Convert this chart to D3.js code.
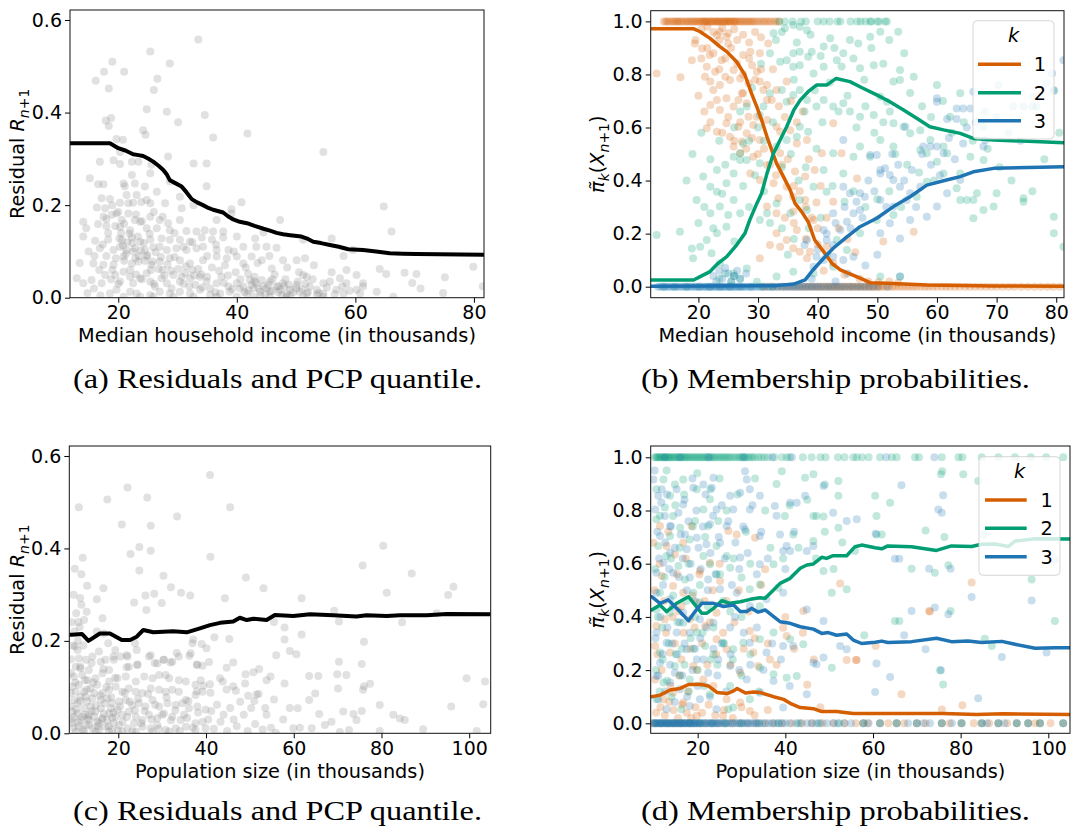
<!DOCTYPE html>
<html>
<head>
<meta charset="utf-8">
<script src="https://cdn.jsdelivr.net/npm/d3@7"></script>
<style>
  body { margin: 0; background: #fff; }
  svg text { font-family: "DejaVu Sans", sans-serif; }
</style>
</head>
<body>
<svg id="fig" width="1071" height="831"></svg>
<script>
// ---------- tick values ----------
const residualTicks = [0, 0.2, 0.4, 0.6];
const probTicks = [0, 0.2, 0.4, 0.6, 0.8, 1.0];
const incomeTicksA = [20, 40, 60, 80];
const incomeTicksB = [20, 30, 40, 50, 60, 70, 80];
const popTicks = [20, 40, 60, 80, 100];
const legendLabels = ["1", "2", "3"];

// ---------- (a) residuals vs median household income ----------
const incomeResiduals = [
  [33.5,0.558],[25.4,0.532],[19.0,0.510],[28.7,0.506],[17.6,0.488],[21.0,0.488],[16.2,0.469],[26.6,0.473],
  [18.4,0.452],[26.0,0.449],[24.8,0.407],[28.2,0.402],[34.6,0.395],[18.8,0.388],[17.9,0.383],[30.1,0.379],
  [18.4,0.371],[24.2,0.362],[41.8,0.355],[24.6,0.352],[36.0,0.346],[19.7,0.343],[20.8,0.341],[54.6,0.315],
  [64.8,0.197],[66.1,0.143],[79.9,0.067],[64.1,0.062],[65.2,0.051],[68.3,0.054],[70.3,0.051],[75.1,0.044],
  [69.6,0.032],[71.0,0.020],[81.5,0.025],[74.8,0.010],[66.4,0.002],[63.6,0.013],
  [20.3,0.315],[16.9,0.294],[19.2,0.297],[20.3,0.289],[22.3,0.294],[23.4,0.294],[25.4,0.269],[25.6,0.287],
  [28.4,0.305],[32.7,0.290],[34.9,0.290],[22.3,0.265],[28.7,0.251],[34.9,0.241],
  [15.2,0.258],[16.6,0.245],[17.5,0.245],[20.9,0.247],[21.1,0.241],[22.8,0.247],[24.5,0.240],[26.5,0.229],
  [21.4,0.222],[23.1,0.222],[24.8,0.211],[27.9,0.204],[30.4,0.218],[40.8,0.206],[39.1,0.191],[32.7,0.200],
  [17.2,0.215],[18.6,0.213],[20.3,0.205],[21.7,0.204],[22.5,0.205],[23.9,0.207],[25.4,0.204],
  [16.4,0.195],[17.8,0.193],[18.9,0.179],[19.7,0.182],[20.6,0.168],[21.7,0.182],[22.8,0.168],[23.7,0.164],
  [25.4,0.175],[27.0,0.168],[28.4,0.161],[30.7,0.193],[30.4,0.168],[36.6,0.168],[39.1,0.182],[47.3,0.168],
  [17.5,0.175],[14.1,0.164],[16.6,0.159],[14.6,0.150],[14.1,0.132],[18.0,0.155],[20.3,0.153],[22.0,0.146],
  [24.8,0.150],[26.5,0.150],[28.7,0.146],[31.5,0.144],[33.2,0.143],[34.6,0.146],[36.0,0.143],[37.7,0.143],
  [40.0,0.132],[43.1,0.128],[44.5,0.141],
  [16.1,0.123],[18.3,0.126],[20.6,0.125],[22.3,0.130],[23.7,0.121],[25.4,0.126],[27.3,0.128],[28.7,0.125],
  [30.4,0.125],[32.1,0.121],[34.1,0.130],[35.8,0.126],[37.7,0.130],[41.1,0.110],[43.3,0.110],[45.0,0.110],
  [46.7,0.108],[51.2,0.125],[56.0,0.128],[16.9,0.107],[19.2,0.103],[20.3,0.110],[21.4,0.103],[22.8,0.107],
  [24.5,0.103],[25.9,0.109],[28.2,0.103],[29.8,0.107],[31.5,0.103],[33.2,0.107],[34.3,0.110],[36.6,0.103],
  [38.6,0.103],
  [15.8,0.074],[17.5,0.071],[19.2,0.071],[20.9,0.089],[22.3,0.074],[23.4,0.078],[24.8,0.089],[25.6,0.071],
  [27.0,0.078],[28.7,0.085],[30.4,0.081],[32.1,0.074],[34.3,0.081],[36.6,0.089],[38.3,0.085],[40.0,0.089],
  [41.1,0.074],[42.5,0.089],[44.2,0.081],[45.9,0.063],[47.8,0.081],[50.1,0.081],[51.5,0.085],[58.0,0.090],
  [59.6,0.103],[51.8,0.045],
  [13.0,0.042],[14.1,0.031],[15.5,0.038],[17.2,0.031],[17.8,0.049],[19.5,0.049],[20.3,0.035],[20.9,0.056],
  [22.0,0.045],[22.5,0.031],[23.7,0.042],[24.8,0.053],[25.4,0.035],[26.2,0.024],[27.3,0.042],[28.2,0.031],
  [29.3,0.049],[30.4,0.035],[31.3,0.053],[32.1,0.042],[33.0,0.028],[33.8,0.045],[34.9,0.035],[35.5,0.020],
  [36.6,0.031],[37.4,0.045],[38.6,0.024],[40.0,0.031],[41.1,0.024],[42.2,0.038],[43.3,0.031],[44.5,0.024],
  [45.6,0.035],[46.7,0.024],[47.8,0.031],[49.0,0.017],[50.1,0.028],[51.2,0.049],[52.3,0.024],[53.5,0.017],
  [54.6,0.031],[55.7,0.035],[57.4,0.042],[58.5,0.031],[60.2,0.049],[61.3,0.031],[60.2,0.017],
  [19.7,0.017],[22.0,0.013],[23.1,0.009],[25.4,0.006],[27.0,0.013],[28.7,0.009],[30.4,0.013],[32.1,0.009],
  [33.8,0.017],[35.5,0.006],[37.2,0.009],[38.8,0.013],[40.5,0.020],[41.7,0.009],[42.8,0.020],[43.9,0.013],
  [45.6,0.013],[47.3,0.017],[48.4,0.009],[50.6,0.013],[51.8,0.009],[53.5,0.006],[54.6,0.009],[56.8,0.017],
  [58.0,0.009],[60.8,0.009],[61.3,0.024],[18.6,0.009],[20.9,0.002],[23.7,0.002],[25.9,0.002],[29.3,0.002],
  [32.7,0.002],[36.6,0.002],[40.0,0.002],[42.8,0.002],[45.6,0.002],[48.4,0.002],[51.2,0.002],[54.6,0.002]
];
const incomeResidualsDense = [
  [20.5,0.140],[21.5,0.120],[22.5,0.100],[23.5,0.090],[24.5,0.080],[25.5,0.060],[21.0,0.080],[22.0,0.060],
  [23.0,0.050],[24.0,0.040],[26.0,0.030],[27.5,0.060],[29.0,0.020],[31.0,0.030],[32.5,0.060],[34.0,0.050],
  [42.0,0.015],[43.0,0.035],[44.0,0.005],[45.0,0.020],[46.0,0.040],[47.0,0.012],[48.0,0.025],[49.0,0.005],
  [50.0,0.020],[52.0,0.012],[18.0,0.090],[19.0,0.060],[20.0,0.030],[27.0,0.110],
  [19.5,0.155],[20.2,0.128],[20.8,0.112],[21.3,0.095],[21.9,0.138],[22.4,0.118],[22.9,0.085],[23.3,0.132],
  [23.8,0.102],[24.3,0.118],[24.9,0.092],[25.3,0.138],[25.8,0.078],[26.3,0.098],[26.8,0.062],[27.2,0.088],
  [27.8,0.048],[28.3,0.072],[28.9,0.058],[29.5,0.088],[30.1,0.062],[30.7,0.045],[31.4,0.068],[32.0,0.025],
  [32.8,0.048],[33.5,0.062],[34.2,0.022],[35.0,0.045],[35.8,0.065],[36.4,0.012],[37.0,0.058],[37.8,0.032],
  [38.5,0.048],[39.2,0.018],[39.8,0.055],[40.6,0.040],[41.3,0.012],[41.9,0.052],[42.5,0.028],[43.0,0.045],
  [43.7,0.020],[44.2,0.038],[44.8,0.008],[45.3,0.028],[45.9,0.015],[46.4,0.050],[47.0,0.025],[47.6,0.006],
  [48.2,0.040],[48.8,0.028],[49.5,0.012],[50.3,0.035],[51.0,0.018],[51.6,0.030],[52.8,0.040],[53.8,0.010],
  [55.2,0.022],[56.5,0.008],[57.8,0.025],[59.0,0.015],
  [16.0,0.090],[16.8,0.060],[17.4,0.115],[18.3,0.140],[18.8,0.040],[19.6,0.085],[14.8,0.010],[15.9,0.020],
  [17.0,0.005],[13.5,0.075],[15.0,0.100],[18.0,0.170],[19.0,0.200],[20.0,0.185],[21.0,0.160],[23.0,0.180],
  [24.0,0.165],[26.0,0.185],[27.5,0.175],[29.5,0.140],[31.0,0.110],[32.5,0.120],[35.0,0.090],[36.5,0.115],
  [38.0,0.070],[39.5,0.100],[41.5,0.065],[43.5,0.075],[45.5,0.090],[48.5,0.065],[50.5,0.055],[53.0,0.070],
  [56.0,0.055],[58.5,0.060]
];
const incomeQuantile = [
  [11.86,0.3336],[18.6,0.3336],[20.0,0.323],[21.2,0.318],[22.5,0.310],[23.4,0.308],[24.2,0.306],[25.1,0.300],
  [25.9,0.294],[26.8,0.285],[27.6,0.276],[28.2,0.266],[28.7,0.254],[29.7,0.247],[30.7,0.240],[31.5,0.228],
  [32.4,0.213],[33.3,0.206],[34.3,0.200],[35.2,0.194],[36.0,0.190],[37.7,0.184],[38.5,0.176],[39.4,0.169],
  [40.5,0.164],[41.7,0.161],[43.0,0.155],[44.5,0.149],[45.6,0.145],[46.7,0.140],[47.8,0.137],[49.0,0.135],
  [50.9,0.132],[52.0,0.127],[52.9,0.121],[54.2,0.118],[55.7,0.114],[57.2,0.110],[58.8,0.1046],[61.3,0.103],
  [63.5,0.100],[65.8,0.096],[68.0,0.095],[70.3,0.0944],[81.7,0.093]
];

// ---------- (b) membership probabilities vs median household income ----------
const incomeK1Ones = [14.2,14.5,14.8,15.1,15.5,15.8,16.1,16.4,16.6,16.9,17.2,17.5,17.9,18.1,18.4,18.7,19.0,19.3,
  19.5,19.8,20.1,20.3,20.6,20.8,21.0,21.2,21.4,21.6,21.9,22.1,22.3,22.5,22.8,23.0,23.2,23.4,23.6,23.8,24.1,24.3,
  24.5,24.7,24.9,25.1,25.3,25.5,25.8,26.0,26.2,26.4,26.7,27.0,27.3,27.6,27.9,28.2,28.5,28.8,29.1,29.4,29.8,30.2,
  30.6,31.0,31.4,31.8,32.2,32.7,33.1,33.6];
const incomeK1Zeros = [31.0,31.7,32.5,33.3,34.0,34.6,35.2,35.8,36.3,36.9,37.4,37.9,38.3,38.8,39.2,39.7,40.1,40.6,
  41.0,41.4,41.8,42.2,42.6,43.0,43.4,43.8,44.2,44.6,45.0,45.4,45.8,46.2,46.6,47.0,47.4,47.8,48.2,48.6,49.0,49.4,
  49.8,50.2,50.6,51.0,51.5,52.0,52.5,53.0,53.6,54.2,54.8,55.4,56.0,56.6,57.3,58.0,58.6,59.3,60.0,60.8,61.5,62.2,
  63.0,63.8,64.7,65.5,66.4,67.3,68.2,69.1,70.0,71.0,72.0,73.0,74.1,75.2,76.3,77.4,78.5,79.5,80.6];
const incomeK1Scatter = [
  [13.0,0.804],[17.0,0.789],[18.9,0.854],[19.4,0.917],[20.6,0.898],[21.4,0.829],[21.1,0.791],[21.9,0.873],
  [23.1,0.949],[23.6,0.961],[24.7,0.942],[25.0,0.917],[23.9,0.854],[22.8,0.810],[22.0,0.773],[22.5,0.741],
  [23.6,0.760],[24.5,0.791],[25.3,0.779],[25.9,0.817],[27.0,0.785],[27.3,0.729],[23.1,0.704],[22.0,0.685],
  [23.6,0.666],[24.7,0.710],[25.9,0.679],[26.7,0.704],[27.5,0.729],[28.4,0.767],[29.0,0.835],[29.8,0.810],
  [30.3,0.773],[30.9,0.741],[31.5,0.704],[32.3,0.704],[33.1,0.741],[34.8,0.773],[31.7,0.917],[30.3,0.880],
  [28.7,0.886],[27.5,0.873],[21.4,0.597],[23.1,0.584],[24.7,0.616],[25.3,0.565],[26.7,0.603],[27.3,0.547],
  [28.1,0.578],[29.2,0.609],[29.8,0.641],[30.3,0.553],[31.5,0.628],[33.1,0.603],[33.7,0.584],[35.4,0.590],
  [36.5,0.540],[38.2,0.553],[42.6,0.616],[44.0,0.503],[40.7,0.503],[25.9,0.528],[27.0,0.503],[29.2,0.490],
  [31.5,0.459],[33.7,0.503],[36.2,0.434],[37.9,0.415],[28.7,0.427],[30.3,0.402],[32.6,0.390],[34.8,0.377],
  [35.9,0.339],[37.9,0.327],[39.8,0.317],[33.4,0.333],[31.5,0.302],[33.1,0.277],[35.9,0.283],[42.6,0.320],
  [39.3,0.251],[33.1,0.201],[34.8,0.176],[35.9,0.145],[37.0,0.132],[33.7,0.151],[32.0,0.157],[30.3,0.107],
  [38.7,0.132],[41.5,0.151],[42.6,0.088],[38.2,0.107],[36.5,0.214],[28.1,0.691],[28.4,0.641],
  [20.5,0.970],[21.5,0.980],[22.5,0.960],[23.5,0.930],[24.0,0.975],[25.0,0.955],[26.0,0.970],[26.5,0.930],
  [27.5,0.950],[28.5,0.920],[29.5,0.960],[30.5,0.940],
  [48.5,0.020],[50.2,0.018],[52.0,0.020],[53.5,0.015],[44.5,0.045],[47.0,0.030],
  [46.6,0.408],[56.1,0.207],[51.0,0.170],[46.3,0.130],
  [19.5,0.930],[20.5,0.860],[21.5,0.900],[22.5,0.880],[23.5,0.820],[24.5,0.860],[25.5,0.900],[26.5,0.840],
  [27.5,0.800],[28.5,0.860],[29.5,0.780],[30.5,0.820],[31.5,0.760],[32.5,0.820],[33.5,0.680],[34.5,0.640],
  [35.5,0.700],[36.5,0.620],[37.5,0.660],[38.5,0.480],[39.5,0.440],[40.5,0.380],[41.5,0.260],[43.5,0.220],
  [45.0,0.180],[20.0,0.720],[21.0,0.660],[22.0,0.620],[24.0,0.580],[25.0,0.640],[26.0,0.550],[27.0,0.620],
  [28.0,0.520],[29.0,0.560],[30.0,0.500],[31.0,0.520],[32.0,0.460],[33.0,0.420],[34.0,0.460],[35.0,0.480],
  [36.0,0.380],[37.0,0.360],[38.0,0.300],[39.0,0.260],[40.0,0.220],[34.5,0.260],[36.0,0.240],[38.0,0.180],
  [40.0,0.160],[41.0,0.060]
];
const incomeK2Ones = [33.5,34.5,35.8,37.2,38.0,40.0,41.0,42.0,43.3,43.8,45.5,46.6,47.2,48.0,48.8,49.0,50.0,50.3,51.3,51.6];
const incomeK2Zeros = [14.2,16.0,18.0,20.1,21.9,23.6,25.3,27.0,28.8,30.6,32.4];
const incomeK2Scatter = [
  [32.6,0.955],[35.9,0.986],[37.0,0.980],[38.2,0.967],[34.5,0.974],[42.1,0.936],[41.0,0.905],[39.0,0.886],
  [38.4,0.867],[37.0,0.886],[35.9,0.880],[33.7,0.848],[34.8,0.854],[35.9,0.829],[37.0,0.835],[39.3,0.804],
  [41.0,0.829],[43.2,0.854],[44.3,0.880],[45.4,0.930],[46.8,0.917],[48.8,0.942],[50.5,0.961],[53.5,0.961],
  [47.1,0.823],[49.4,0.835],[53.8,0.817],[52.7,0.773],[53.8,0.779],[56.1,0.791],[60.0,0.760],[63.9,0.729],
  [50.5,0.716],[51.6,0.697],[52.1,0.660],[52.7,0.616],[49.4,0.647],[47.1,0.641],[45.4,0.660],[44.3,0.691],
  [42.6,0.679],[41.0,0.704],[39.8,0.679],[38.2,0.704],[37.0,0.741],[35.9,0.723],[34.8,0.697],[34.0,0.741],
  [32.0,0.729],[30.9,0.679],[30.3,0.647],[28.1,0.679],[37.0,0.603],[38.4,0.584],[36.5,0.565],[34.8,0.553],
  [33.1,0.528],[30.3,0.465],[28.1,0.478],[27.0,0.503],[25.9,0.427],[24.7,0.390],[23.1,0.358],[22.0,0.377],
  [19.7,0.327],[20.8,0.415],[23.1,0.440],[25.9,0.490],[27.5,0.540],[27.0,0.478],[22.0,0.277],[23.6,0.302],
  [25.9,0.327],[27.0,0.277],[24.7,0.226],[23.1,0.201],[21.4,0.176],[20.3,0.151],[19.1,0.107],[16.9,0.207],
  [13.0,0.195],[18.9,0.144],[22.2,0.126],[23.6,0.088],[25.9,0.050],[28.1,0.069],[30.3,0.251],[31.5,0.277],
  [33.1,0.314],[35.4,0.277],[37.0,0.327],[38.2,0.289],[39.3,0.377],[41.5,0.358],[42.6,0.503],[44.3,0.427],
  [46.0,0.490],[47.1,0.528],[48.8,0.490],[50.5,0.553],[52.7,0.528],[54.4,0.603],[55.5,0.578],[57.2,0.590],
  [58.3,0.503],[60.0,0.471],[61.7,0.503],[63.9,0.427],[63.3,0.371],[63.9,0.327],[65.0,0.327],[66.1,0.327],
  [66.7,0.352],[67.8,0.289],[66.1,0.258],[69.5,0.302],[70.0,0.352],[74.5,0.333],[74.5,0.320],[79.6,0.264],
  [79.6,0.201],[81.2,0.151],[79.6,0.738],[76.7,0.679],[67.8,0.478],[65.6,0.490],[61.1,0.427],[58.3,0.396],
  [56.6,0.339],[52.7,0.270],[49.9,0.251],[47.1,0.201],[44.9,0.138],[42.6,0.075],[39.3,0.050],[35.9,0.056],
  [33.1,0.038],[29.8,0.019],[50.5,0.038],[53.8,0.038],[43.2,0.176],[57.2,0.515],[58.9,0.553],[61.1,0.528],
  [62.2,0.641],[67.8,0.603],[23.5,0.030],[24.5,0.050],[25.5,0.020],[26.0,0.040],[27.0,0.030],
  [36.5,0.920],[38.8,0.950],[40.5,0.870],[42.8,0.900],[44.0,0.830],[46.0,0.860],[47.8,0.780],[49.0,0.900],
  [51.0,0.840],[52.0,0.930],[54.5,0.880],[55.5,0.730],[57.5,0.680],[59.0,0.640],[61.0,0.700],[62.5,0.580],
  [64.5,0.620],[66.0,0.550],[68.5,0.520],[70.5,0.450],[72.5,0.400],[76.0,0.360],[78.0,0.480],[80.5,0.580],
  [36.0,0.780],[37.8,0.660],[39.5,0.740],[40.8,0.620],[42.0,0.770],[43.5,0.660],[45.0,0.720],[46.5,0.600],
  [48.0,0.680],[49.5,0.580],[51.0,0.620],[53.0,0.500],[55.0,0.460],[57.0,0.430],[59.5,0.400],
  [30.0,0.600],[31.0,0.550],[32.5,0.620],[34.0,0.450],[35.5,0.500],[36.8,0.400],[38.0,0.450],[39.8,0.520],
  [41.0,0.440],[42.5,0.380],[44.5,0.320],[46.0,0.360],[48.0,0.300],[50.0,0.330],[52.0,0.360],[54.0,0.300],
  [20.0,0.240],[21.0,0.300],[22.5,0.220],[24.0,0.350],[25.0,0.270],[26.0,0.170],[27.5,0.380],[28.5,0.300],
  [29.5,0.420],[31.0,0.360],[32.0,0.240],[34.0,0.220],[35.0,0.120],[36.0,0.180],[38.5,0.220],[40.5,0.260],
  [41.5,0.120],[18.0,0.400],[19.0,0.500],[20.5,0.580],[22.0,0.480],[23.5,0.550],[24.5,0.460],[26.0,0.600],
  [27.0,0.660],[28.5,0.550],[29.0,0.750],[30.5,0.840],[32.0,0.880],[33.0,0.930],[34.0,0.960]
];
const incomeK3Zeros = [13.2,13.6,14.0,14.4,14.8,15.2,15.6,16.0,16.4,16.8,17.2,17.6,18.0,18.3,18.7,19.0,19.4,19.7,
  20.1,20.4,20.8,21.1,21.4,21.7,22.0,22.3,22.6,22.9,23.2,23.5,23.8,24.1,24.4,24.7,25.0,25.3,25.6,25.9,26.2,26.5,
  26.8,27.2,27.5,27.8,28.2,28.6,29.0,29.4,29.8,30.2,30.7,31.1,31.6,32.0,32.5,33.0,33.4,33.9,34.3,34.8,35.2,35.7,
  36.1,36.6,37.0,37.5,38.0,38.5,39.0,39.5,40.0,40.5,41.1,41.7,42.2,42.8,43.4,44.0,44.6,45.3,45.9,46.6,47.2,47.9,
  48.6,49.3,50.1,51.7];
const incomeK3Scatter = [
  [22.5,0.040],[23.5,0.060],[24.0,0.030],[24.5,0.070],[25.0,0.050],[25.5,0.020],[26.0,0.040],[26.5,0.060],
  [27.0,0.030],[23.0,0.020],[28.0,0.050],
  [37.8,0.157],[41.0,0.214],[41.5,0.176],[42.6,0.157],[42.6,0.277],[44.3,0.377],[45.4,0.352],[47.1,0.352],
  [47.9,0.339],[46.0,0.277],[47.1,0.289],[44.9,0.245],[43.8,0.214],[44.3,0.553],[48.8,0.496],[49.9,0.496],
  [51.3,0.446],[50.5,0.427],[52.1,0.421],[52.7,0.402],[53.8,0.377],[53.8,0.038],[50.5,0.327],[52.7,0.302],
  [54.9,0.327],[55.5,0.352],[57.2,0.377],[54.7,0.603],[57.7,0.528],[58.9,0.528],[60.0,0.528],[61.1,0.503],
  [60.0,0.710],[60.0,0.697],[61.7,0.632],[63.3,0.632],[63.3,0.672],[64.4,0.672],[65.6,0.672],[67.8,0.528],
  [68.1,0.553],[64.4,0.540],[63.9,0.402],[61.7,0.352],[60.0,0.302],[58.3,0.264],[55.5,0.251],[52.1,0.239],
  [50.5,0.201],[53.8,0.182],[72.8,0.679],[74.5,0.679],[76.2,0.716],[78.4,0.767],[81.2,0.854],[46.0,0.113],
  [44.3,0.101],[42.6,0.113],[39.8,0.113],[39.3,0.075],[38.2,0.176],[41.0,0.101],[79.3,0.804],[79.6,0.741],
  [70.3,0.760],[66.1,0.735],
  [40.0,0.140],[41.5,0.200],[43.0,0.240],[44.5,0.300],[45.5,0.220],[46.5,0.320],[47.5,0.260],[48.5,0.400],
  [49.5,0.360],[50.5,0.440],[51.5,0.300],[52.5,0.500],[53.5,0.460],[54.5,0.400],[55.8,0.440],[56.5,0.300],
  [57.5,0.500],[59.0,0.460],[60.5,0.420],[62.0,0.560],[63.0,0.480],[65.0,0.600],[66.5,0.620],[68.0,0.660],
  [70.0,0.640],[72.0,0.580],[74.0,0.550],[76.0,0.680],[45.0,0.050],[48.0,0.080],[50.0,0.120],[43.0,0.020],
  [39.0,0.030]
];
const incomeK1Line = [
  [12.0,0.9725],[19.15,0.9725],[20.3,0.961],[21.95,0.936],[23.6,0.905],[24.75,0.886],[26.4,0.848],[27.8,0.798],
  [28.9,0.729],[29.8,0.678],[30.6,0.628],[31.5,0.565],[32.3,0.515],[33.1,0.465],[34.25,0.415],[35.4,0.364],
  [36.2,0.314],[37.3,0.283],[38.4,0.245],[39.5,0.176],[41.0,0.132],[42.4,0.088],[43.8,0.063],[45.4,0.048],
  [47.1,0.032],[48.8,0.015],[51.6,0.013],[58.3,0.0064],[69.5,0.0026],[81.3,0.0015]
];
const incomeK2Line = [
  [12.0,0.025],[19.2,0.025],[20.3,0.038],[21.95,0.057],[23.3,0.088],[24.75,0.113],[26.4,0.157],[27.8,0.201],
  [28.6,0.251],[29.8,0.314],[30.6,0.352],[31.5,0.427],[32.6,0.503],[33.7,0.553],[34.8,0.603],[36.0,0.666],
  [37.1,0.704],[38.4,0.735],[39.8,0.760],[41.5,0.760],[43.1,0.785],[45.4,0.773],[47.6,0.748],[49.9,0.723],
  [52.1,0.697],[54.4,0.666],[56.6,0.635],[58.8,0.603],[61.1,0.591],[63.9,0.578],[66.1,0.559],[69.5,0.553],
  [81.3,0.543]
];
const incomeK3Line = [
  [12.0,0.002],[33.1,0.004],[36.0,0.010],[37.9,0.026],[39.2,0.063],[41.0,0.107],[42.6,0.145],[44.9,0.188],
  [47.1,0.226],[49.9,0.258],[52.7,0.302],[55.5,0.339],[58.3,0.383],[61.6,0.402],[63.9,0.415],[66.1,0.433],
  [69.5,0.446],[81.3,0.452]
];

// ---------- (c) residuals vs population size ----------
const popResiduals = [
  [40.9,0.559],[22.1,0.532],[26.6,0.510],[17.5,0.506],[11.0,0.489],[45.5,0.489],[33.4,0.469],[20.8,0.452],
  [27.4,0.449],[80.4,0.406],[24.8,0.403],[22.8,0.388],[27.4,0.395],[41.0,0.382],[11.9,0.380],[75.7,0.363],
  [10.1,0.356],[24.8,0.352],[11.6,0.344],[86.9,0.346],[30.3,0.341],[49.1,0.337],[12.9,0.319],[16.6,0.314],
  [32.0,0.316],[53.1,0.314],[96.4,0.317],[34.3,0.304],[81.2,0.304],[26.2,0.298],[28.2,0.302],[36.4,0.298],
  [95.2,0.299],[11.3,0.293],[15.1,0.290],[44.3,0.292],[61.8,0.292],[29.9,0.282],[23.6,0.283],[11.6,0.278],
  [26.4,0.267],[12.8,0.263],[92.6,0.260],[69.2,0.265],[16.4,0.249],[84.7,0.240],[70.3,0.242],[55.5,0.241],
  [10.9,0.241],[12.2,0.245],[57.9,0.229],[15.1,0.220],[16.7,0.216],[23.8,0.195],[37.1,0.203],[41.9,0.208],
  [45.3,0.204],[61.8,0.214],[57.9,0.203],[76.0,0.198],[17.7,0.195],[10.1,0.188],[39.0,0.193],[36.9,0.195],
  [40.1,0.184],[59.1,0.178],[24.2,0.180],[60.6,0.171],[18.9,0.166],[21.9,0.169],[19.3,0.180],[27.4,0.169],
  [33.3,0.174],[36.2,0.168],[56.0,0.169],[70.3,0.155],[75.5,0.150],[28.3,0.152],[30.3,0.159],[31.9,0.153],
  [24.4,0.149],[40.7,0.154],[46.2,0.153],[37.9,0.149],[44.7,0.142],[52.1,0.139],[50.8,0.132],[21.9,0.143],
  [16.6,0.139],[13.9,0.152],[11.3,0.144],[12.4,0.115],[54.7,0.123],[63.5,0.124],[65.6,0.124],[72.0,0.126],
  [69.9,0.128],[103.6,0.112],[99.4,0.119],[43.2,0.119],[48.9,0.108],[57.9,0.108],[53.8,0.115],[76.0,0.102],
  [77.4,0.107],[70.1,0.097],[64.9,0.086],[75.8,0.094],[39.4,0.103],[40.9,0.106],[44.7,0.095],[46.2,0.102],
  [37.9,0.091],[49.6,0.081],[51.5,0.084],[55.5,0.073],[63.5,0.072],[65.8,0.042],[79.6,0.061],[95.9,0.058],
  [103.2,0.063],[59.1,0.055],[60.9,0.054],[71.3,0.047],[73.6,0.042],[75.5,0.048],[82.7,0.040],[85.3,0.029],
  [84.2,0.032],[74.3,0.029],[68.6,0.025],[67.1,0.018],[57.6,0.030],[59.9,0.011],[61.4,0.012],[89.5,0.009],
  [79.6,0.005],[70.5,0.003],[64.1,0.011],[55.9,0.001],[101.7,0.005],[72.6,0.007],
  [10.7,0.180],[11.0,0.162],[10.3,0.144],[11.4,0.141],[12.6,0.159],[13.3,0.137],[14.1,0.166],[15.6,0.177],
  [16.0,0.155],[17.1,0.159],[17.9,0.137],[19.0,0.159],[20.5,0.166],[22.1,0.166],[22.4,0.144],[24.3,0.148],
  [27.0,0.166],[28.9,0.151],[30.4,0.159],[30.8,0.126],[32.3,0.155],[33.8,0.166],[36.5,0.173],[38.0,0.148],
  [39.2,0.146],
  [9.9,0.123],[11.8,0.126],[13.0,0.115],[14.8,0.119],[16.4,0.130],[17.9,0.112],[19.8,0.119],[21.7,0.123],
  [24.0,0.112],[25.9,0.123],[27.8,0.119],[29.3,0.126],[31.6,0.119],[33.8,0.115],[35.4,0.112],[37.6,0.105],
  [38.8,0.115],
  [9.5,0.101],[11.0,0.105],[12.2,0.090],[13.7,0.097],[15.2,0.105],[16.4,0.087],[17.9,0.094],[19.4,0.101],
  [20.9,0.090],[22.4,0.097],[24.0,0.090],[25.5,0.087],[27.4,0.097],[29.3,0.094],[30.8,0.090],[32.3,0.094],
  [33.8,0.090],[35.4,0.072],[37.6,0.083],[39.2,0.090],
  [9.9,0.072],[11.4,0.079],[12.9,0.069],[14.1,0.076],[16.0,0.072],[17.5,0.076],[18.6,0.065],[20.2,0.069],
  [21.7,0.072],[23.2,0.061],[24.7,0.065],[26.2,0.058],[27.8,0.072],[29.3,0.058],[31.2,0.065],[33.1,0.061],
  [34.6,0.065],[36.1,0.054],[38.0,0.058],[39.9,0.051],
  [9.5,0.047],[10.7,0.043],[11.8,0.036],[13.3,0.040],[14.8,0.047],[16.4,0.033],[17.9,0.043],[19.4,0.036],
  [20.9,0.040],[22.4,0.047],[24.0,0.036],[25.5,0.029],[27.0,0.040],[28.9,0.033],[30.4,0.043],[32.3,0.036],
  [34.2,0.029],[35.7,0.033],[37.6,0.022],[39.2,0.025],
  [9.5,0.022],[11.0,0.014],[12.6,0.018],[14.1,0.011],[15.6,0.022],[17.1,0.014],[18.6,0.007],[20.2,0.018],
  [22.1,0.011],[23.6,0.022],[25.5,0.014],[27.4,0.011],[28.9,0.018],[30.8,0.007],[33.1,0.011],[35.4,0.014],
  [37.6,0.007],[39.9,0.011],
  [10.3,0.004],[12.2,0.004],[14.8,0.004],[17.9,0.004],[20.9,0.004],[24.0,0.004],[27.8,0.004],[31.6,0.004]
];
const popResidualsDense = [
  [9.1,0.058],[9.9,0.036],[10.7,0.065],[11.4,0.029],[12.2,0.054],[13.0,0.033],[13.7,0.058],[14.5,0.036],
  [15.2,0.025],[16.0,0.054],[16.7,0.043],[17.5,0.029],[18.3,0.054],[19.0,0.022],[19.8,0.051],[9.1,0.087],
  [10.3,0.090],[12.6,0.079],[14.5,0.087],[13.3,0.029],[15.6,0.007],[18.6,0.033],
  [9.3,0.030],[9.8,0.012],[10.4,0.052],[10.9,0.024],[11.3,0.070],[11.9,0.008],[12.4,0.040],[12.8,0.095],
  [13.4,0.018],[13.9,0.048],[14.3,0.110],[14.9,0.060],[15.4,0.015],[15.9,0.082],[16.3,0.030],[16.9,0.065],
  [17.3,0.100],[17.8,0.015],[18.4,0.078],[18.9,0.045],[19.3,0.120],[19.9,0.006],[20.4,0.058],[21.0,0.025],
  [21.5,0.088],[22.0,0.035],[22.6,0.068],[23.2,0.005],[23.8,0.050],[24.5,0.075],[25.2,0.022],[26.0,0.048],
  [26.8,0.085],[27.6,0.030],[28.4,0.062],[29.2,0.010],[30.0,0.040],[31.0,0.078],[32.0,0.028],[33.0,0.050],
  [34.0,0.005],[35.0,0.040],[36.0,0.070],[37.0,0.012],[38.2,0.045],
  [40.5,0.030],[41.2,0.048],[41.8,0.010],[42.5,0.062],[43.3,0.025],[44.0,0.040],[44.8,0.005],[45.5,0.055],
  [46.3,0.030],[47.0,0.015],[47.8,0.068],[48.6,0.040],[49.5,0.005],[50.3,0.055],[51.2,0.020],[52.0,0.085],
  [52.9,0.008],[53.8,0.040],[54.8,0.012],[41.0,0.088],[43.8,0.112],[46.8,0.092],[49.0,0.128],[51.0,0.070],
  [53.5,0.055],
  [9.2,0.160],[9.6,0.190],[10.0,0.220],[10.4,0.260],[9.4,0.240],[10.8,0.200],[9.8,0.300],[11.2,0.230],
  [12.0,0.190],[9.2,0.130],[10.2,0.110]
];
const popQuantile = [
  [8.83,0.213],[9.4,0.213],[11.7,0.215],[13.2,0.200],[15.8,0.216],[18.1,0.216],[20.8,0.202],[22.7,0.202],
  [24.2,0.209],[25.7,0.2235],[28.0,0.2185],[32.5,0.221],[35.6,0.2185],[38.6,0.227],[40.9,0.234],[43.2,0.239],
  [46.2,0.242],[47.7,0.250],[49.3,0.245],[50.8,0.248],[53.8,0.245],[55.7,0.256],[59.9,0.254],[63.7,0.2575],
  [69.0,0.2555],[74.3,0.2525],[76.6,0.2555],[81.2,0.254],[84.2,0.2555],[90.3,0.2555],[94.9,0.258],[104.9,0.2575]
];

// ---------- (d) membership probabilities vs population size ----------
const popSharedZeros = [57.8,61.6,65.4,70.0,75.7,80.2,84.8,88.6,92.8,95.4,98.1,103.4];
const popK1Zeros = [9.6,10.5,11.5,12.4,13.3,14.2,15.1,16.0,17.0,18.1,19.2,20.4,21.7,23.1,24.6,26.2,27.9,29.6,31.4,
  33.3,35.2,37.2,39.3,41.5,43.8,46.1,48.5,51.0,53.5,56.1,58.8,63.5,67.1,72.0,77.5,83.0,86.5,90.6,97.0,100.5];
const popK1Scatter = [
  [9.9,0.679],[11.4,0.742],[12.9,0.667],[14.8,0.635],[16.7,0.679],[18.6,0.742],[20.5,0.573],[22.8,0.604],
  [25.1,0.535],[27.0,0.723],[28.9,0.710],[33.1,0.698],[35.4,0.579],[39.5,0.359],[40.3,0.328],[44.1,0.422],
  [52.5,0.526],[31.9,0.347],[32.7,0.266],[33.8,0.215],[29.7,0.190],[26.6,0.278],[24.3,0.316],[21.7,0.366],
  [18.2,0.391],[15.6,0.422],[12.5,0.391],[10.6,0.366],[10.3,0.291],[13.7,0.266],[16.3,0.240],[19.0,0.215],
  [21.3,0.165],[23.6,0.140],[26.6,0.090],[29.7,0.078],[31.9,0.046],[25.8,0.028],[19.8,0.028],[16.7,0.078],
  [14.4,0.115],[12.2,0.090],[10.3,0.165],[24.3,0.416],[19.8,0.454],[16.7,0.491],[14.4,0.516],[11.8,0.554],
  [54.0,0.238],[56.1,0.238],[82.5,0.529],[72.8,0.422],[56.3,0.238],[60.6,0.291],[66.5,0.109],[80.4,0.068],
  [75.7,0.052],[73.0,0.420],[45.0,0.145],[48.0,0.060],[36.5,0.240],
  [10.2,0.500],[10.8,0.260],[11.3,0.600],[11.8,0.200],[12.3,0.460],[12.8,0.340],[13.3,0.720],[13.8,0.140],
  [14.3,0.400],[14.8,0.300],[15.3,0.560],[15.8,0.180],[16.3,0.440],[16.8,0.340],[17.3,0.620],[17.8,0.120],
  [18.3,0.280],[18.8,0.480],[19.3,0.360],[19.8,0.200],[20.4,0.560],[21.0,0.300],[21.6,0.460],[22.2,0.220],
  [22.8,0.380],[23.5,0.500],[24.2,0.260],[25.0,0.600],[25.8,0.340],[26.6,0.460],[27.5,0.220],[28.4,0.380],
  [29.4,0.500],[30.5,0.280],[31.6,0.420],[33.0,0.320],[34.5,0.520],[36.0,0.300],[38.0,0.220],[40.0,0.400],
  [42.0,0.280],[44.0,0.340],[46.5,0.240],
  [10.5,0.040],[11.5,0.060],[12.5,0.030],[13.5,0.080],[14.5,0.050],[15.5,0.020],[16.5,0.070],[17.5,0.040],
  [18.5,0.020],[19.5,0.060],[21.0,0.040],[22.5,0.070],[24.0,0.030],[26.0,0.050],[28.0,0.020],[30.0,0.060],
  [33.0,0.030],[36.0,0.050]
];
const popK2Ones = [10.2,10.5,10.8,11.1,11.4,11.7,12.0,12.3,12.6,12.9,13.2,13.5,13.8,14.1,14.5,14.8,15.2,15.5,15.9,
  16.2,16.6,16.9,17.3,17.6,18.0,18.4,18.8,19.2,19.6,20.0,20.4,20.8,21.2,21.6,22.0,22.4,22.8,23.2,23.6,24.0,24.5,
  25.0,25.4,25.9,26.3,26.8,27.2,27.7,28.3,28.8,29.4,29.8,30.2,30.6,31.0,31.5,32.0,32.5,33.0,33.8,34.5,35.2,36.0,
  37.5,39.2,40.3,41.0,44.0,46.0,48.0,49.2,52.0,53.5,55.5,56.3,57.5,59.0,61.6,64.3,65.4,69.6,70.5,75.7,79.5,80.4,
  84.8,88.6,92.4,96.0,99.5,103.4];
const popK2Zeros = [10.2,11.6,13.0,14.6,16.2,18.2,20.6,23.4,26.5,30.0,34.0,38.4,43.0,47.6,52.3];
const popK2Scatter = [
  [39.2,0.948],[44.5,0.923],[46.4,0.936],[52.1,0.911],[49.0,0.898],[52.1,0.855],[46.4,0.779],[47.1,0.779],
  [48.7,0.777],[39.9,0.779],[41.8,0.710],[46.4,0.685],[48.7,0.573],[50.6,0.491],[54.0,0.504],[52.1,0.735],
  [38.4,0.510],[37.3,0.598],[34.2,0.522],[31.9,0.504],[30.0,0.548],[26.6,0.629],[27.4,0.585],[25.1,0.560],
  [22.8,0.598],[21.3,0.629],[24.3,0.667],[24.7,0.761],[22.4,0.742],[19.4,0.761],[21.3,0.804],[22.8,0.842],
  [19.8,0.880],[16.7,0.917],[14.8,0.898],[12.2,0.917],[10.6,0.880],[13.7,0.855],[12.5,0.811],[10.6,0.767],
  [14.4,0.779],[16.0,0.735],[18.2,0.691],[13.7,0.704],[11.0,0.667],[12.9,0.629],[15.6,0.591],[17.1,0.541],
  [19.0,0.491],[20.5,0.454],[11.4,0.491],[10.6,0.428],[13.7,0.416],[16.7,0.378],[19.8,0.341],[21.7,0.291],
  [23.6,0.259],[25.8,0.303],[28.1,0.278],[30.4,0.303],[34.2,0.316],[37.3,0.341],[41.1,0.316],[44.1,0.297],
  [50.6,0.209],[42.6,0.178],[40.3,0.171],[37.3,0.184],[34.2,0.209],[27.4,0.140],[22.8,0.109],[18.2,0.165],
  [14.8,0.215],[11.4,0.266],[12.2,0.153],[10.6,0.090],[16.3,0.053],[27.0,0.053],[31.9,0.090],[28.1,0.059],
  [55.9,0.648],[60.5,0.855],[63.9,0.829],[60.8,0.779],[60.8,0.710],[62.0,0.710],[72.0,0.725],[75.8,0.948],
  [75.5,0.936],[80.6,0.936],[84.0,0.911],[76.3,0.700],[68.8,0.581],[74.1,0.566],[77.2,0.594],[65.0,0.385],
  [66.0,0.385],[77.7,0.422],[85.5,0.318],[87.1,0.291],[96.2,0.541],[101.5,0.385],[58.0,0.331],[76.0,0.146],
  [75.3,0.199],
  [10.3,0.580],[10.9,0.400],[11.4,0.780],[11.9,0.360],[12.4,0.550],[12.9,0.950],[13.4,0.300],[13.9,0.620],
  [14.4,0.480],[14.9,0.820],[15.4,0.380],[15.9,0.660],[16.4,0.280],[16.9,0.860],[17.4,0.460],[17.9,0.600],
  [18.4,0.320],[18.9,0.740],[19.4,0.400],[19.9,0.940],[20.5,0.520],[21.1,0.340],[21.7,0.700],[22.3,0.440],
  [22.9,0.880],[23.6,0.360],[24.3,0.560],[25.0,0.920],[25.8,0.460],[26.6,0.800],[27.4,0.420],[28.2,0.620],
  [29.1,0.860],[30.0,0.400],[31.0,0.720],[32.0,0.600],[33.1,0.920],[34.2,0.440],[35.4,0.800],[36.6,0.660],
  [38.0,0.900],[39.5,0.620],[41.0,0.820],[43.0,0.660],[45.0,0.840],[47.0,0.620],[49.0,0.720],[51.0,0.580],
  [53.0,0.680],
  [10.5,0.200],[11.3,0.120],[12.0,0.240],[13.0,0.160],[14.0,0.100],[15.0,0.260],[16.0,0.180],[17.0,0.220],
  [18.0,0.120],[19.0,0.280],[20.0,0.200],[21.5,0.140],[23.0,0.240],[24.5,0.220],[26.0,0.300],[28.0,0.240],
  [30.0,0.180],[32.0,0.260],[34.0,0.120]
];
const popK3Ones = [12.5,16.0,22.5,30.5,37.0,41.5,63.0,74.0];
const popK3Zeros = [9.8,10.05,10.3,10.55,10.8,11.05,11.3,11.55,11.8,12.05,12.3,12.55,12.8,13.05,13.3,13.55,13.8,
  14.05,14.3,14.55,14.8,15.05,15.3,15.55,15.8,16.05,16.3,16.55,16.8,17.05,17.3,17.55,17.8,18.05,18.3,18.55,18.8,
  19.05,19.3,19.55,19.8,20.05,20.3,20.65,21.0,21.35,21.7,22.05,22.4,22.75,23.1,23.45,23.8,24.15,24.5,24.85,25.2,
  25.6,26.0,26.5,27.0,27.5,28.0,28.5,29.0,29.5,30.0,30.5,31.0,31.5,32.0,32.5,33.0,33.5,34.0,34.7,35.5,36.2,37.0,
  37.7,38.5,39.2,40.0,41.0,42.5,43.5,45.0,46.0,47.0,48.0,49.5,51.0,52.0,53.5,55.0,59.0,68.0,71.5,73.0,78.0,86.0,90.0];
const popK3Scatter = [
  [9.9,0.917],[11.0,0.855],[11.8,0.880],[10.3,0.804],[12.5,0.779],[13.7,0.742],[11.4,0.704],[15.6,0.792],
  [16.7,0.823],[19.0,0.886],[21.3,0.898],[23.2,0.886],[23.6,0.923],[27.4,0.855],[29.7,0.867],[31.9,0.880],
  [34.2,0.855],[37.6,0.817],[41.1,0.829],[42.6,0.829],[44.5,0.855],[48.7,0.892],[50.9,0.792],[54.0,0.761],
  [30.8,0.948],[31.2,0.917],[31.9,0.804],[28.1,0.804],[24.3,0.804],[22.8,0.748],[26.6,0.742],[30.8,0.729],
  [34.2,0.704],[38.8,0.710],[40.3,0.667],[39.5,0.648],[41.1,0.648],[44.9,0.648],[46.4,0.667],[34.2,0.598],
  [29.7,0.623],[25.1,0.679],[22.0,0.673],[19.8,0.698],[17.1,0.710],[17.5,0.654],[13.7,0.641],[12.2,0.604],
  [10.6,0.566],[14.4,0.566],[18.2,0.548],[22.4,0.541],[25.1,0.504],[28.9,0.491],[31.9,0.441],[35.7,0.466],
  [39.5,0.491],[44.9,0.428],[48.7,0.385],[54.0,0.278],[52.5,0.291],[48.7,0.247],[46.4,0.228],[47.1,0.222],
  [41.8,0.291],[39.5,0.291],[35.7,0.266],[31.9,0.303],[27.4,0.360],[23.6,0.378],[20.5,0.391],[16.7,0.416],
  [13.7,0.466],[10.6,0.491],[10.6,0.341],[12.9,0.303],[15.2,0.341],[17.5,0.278],[19.8,0.240],[22.4,0.190],
  [24.7,0.240],[27.4,0.215],[31.2,0.165],[34.2,0.115],[37.3,0.159],[39.5,0.059],[44.9,0.109],[11.4,0.228],
  [13.7,0.153],[16.0,0.128],[18.2,0.065],[20.5,0.090],[24.3,0.053],[12.9,0.053],[11.0,0.090],[14.8,0.190],
  [10.6,0.178],
  [66.5,0.895],[76.0,0.857],[74.9,0.804],[75.7,0.792],[56.3,0.767],[60.6,0.713],[65.0,0.619],[66.0,0.619],
  [72.8,0.581],[77.7,0.581],[82.5,0.475],[74.1,0.435],[68.8,0.422],[77.2,0.410],[67.1,0.331],[72.0,0.278],
  [60.8,0.225],[63.9,0.174],[75.5,0.199],[60.5,0.118],[84.0,0.094],[89.4,0.249],[96.2,0.462],[99.6,0.266],
  [85.2,0.710],[101.5,0.616],
  [10.2,0.950],[10.8,0.720],[11.2,0.620],[11.7,0.830],[12.1,0.520],[12.6,0.680],[13.0,0.860],[13.5,0.580],
  [13.9,0.740],[14.3,0.440],[14.8,0.660],[15.2,0.880],[15.7,0.550],[16.1,0.710],[16.6,0.620],[17.0,0.840],
  [17.5,0.500],[17.9,0.760],[18.4,0.600],[18.8,0.920],[19.3,0.460],[19.7,0.800],[20.2,0.660],[20.7,0.580],
  [21.2,0.740],[21.8,0.860],[22.3,0.500],[22.9,0.640],[23.5,0.780],[24.1,0.560],[24.8,0.700],[25.5,0.820],
  [26.2,0.620],[27.0,0.760],[27.8,0.520],[28.6,0.680],[29.5,0.580],[30.4,0.740],[31.4,0.640],[32.5,0.820],
  [33.5,0.560],[34.5,0.720],[36.0,0.620],[38.0,0.780],[40.0,0.580],[42.0,0.720],
  [10.4,0.320],[11.0,0.180],[11.5,0.400],[12.0,0.260],[12.6,0.120],[13.1,0.360],[13.7,0.220],[14.2,0.300],
  [14.8,0.080],[15.3,0.260],[15.9,0.380],[16.5,0.180],[17.0,0.300],[17.6,0.100],[18.2,0.340],[18.8,0.200],
  [19.4,0.280],[20.0,0.140],[20.6,0.320],[21.3,0.240],[22.0,0.360],[22.8,0.100],[23.6,0.280],[24.5,0.180],
  [25.5,0.300],[26.5,0.120],[27.5,0.260],[28.5,0.400],[29.5,0.200],[30.5,0.340],[32.0,0.220],[33.5,0.360],
  [35.0,0.200],[37.0,0.300],[39.0,0.240],[41.0,0.140]
];
const popK1Line = [
  [9.28,0.100],[9.5,0.100],[11.4,0.106],[13.7,0.125],[16.0,0.131],[17.9,0.146],[20.5,0.147],[22.5,0.140],
  [24.4,0.116],[26.7,0.112],[28.2,0.122],[29.0,0.131],[30.9,0.114],[32.8,0.118],[34.2,0.116],[37.3,0.100],
  [39.6,0.090],[41.5,0.072],[43.4,0.059],[46.4,0.055],[48.3,0.044],[51.7,0.044],[55.5,0.037],[64.6,0.037],
  [76.0,0.037],[83.6,0.033],[89.7,0.036],[104.95,0.033]
];
const popK2Line = [
  [9.28,0.426],[9.5,0.426],[11.4,0.445],[12.9,0.420],[15.2,0.451],[17.9,0.476],[20.9,0.414],[22.1,0.414],
  [23.6,0.432],[25.5,0.461],[27.4,0.451],[29.7,0.457],[32.0,0.466],[34.2,0.472],[35.4,0.470],[37.3,0.501],
  [38.8,0.526],[41.1,0.545],[43.4,0.583],[44.9,0.595],[46.4,0.599],[48.3,0.624],[49.4,0.620],[50.9,0.630],
  [54.0,0.630],[55.9,0.664],[57.4,0.670],[60.5,0.660],[62.0,0.656],[63.4,0.667],[68.8,0.664],[74.5,0.650],
  [77.9,0.667],[82.5,0.665],[84.8,0.673],[87.8,0.674],[90.9,0.665],[92.4,0.685],[97.0,0.694],[104.95,0.693]
];
const popK3Line = [
  [9.28,0.476],[9.5,0.476],[11.4,0.451],[13.3,0.464],[15.6,0.426],[17.9,0.386],[19.4,0.420],[20.9,0.451],
  [23.6,0.451],[25.9,0.439],[28.2,0.445],[29.7,0.420],[31.2,0.420],[32.3,0.432],[33.8,0.418],[35.4,0.426],
  [36.9,0.407],[38.8,0.382],[41.1,0.376],[43.4,0.363],[46.4,0.354],[48.3,0.338],[49.8,0.341],[51.7,0.331],
  [54.0,0.336],[55.5,0.313],[57.4,0.300],[60.5,0.305],[62.0,0.309],[63.4,0.304],[68.8,0.307],[74.5,0.3195],
  [77.9,0.307],[81.7,0.309],[84.8,0.304],[89.4,0.308],[92.4,0.297],[97.0,0.282],[101.6,0.284],[104.95,0.284]
];

// ---------- drawing ----------
const K_COLORS = ["#d55e00", "#029e73", "#1f74b4"];
const GREY = "#808080";
const TICK_FONT = "19px";
const LABEL_FONT = "19.3px";
const SUB_FONT = 14;
const svg = d3.select("#fig");
const defs = svg.append("defs");

const at = (xs, v) => xs.map(x => [x, v]);

function drawPanel(p) {
  const x = d3.scaleLinear().domain(p.xDomain).range([p.left, p.right]);
  const y = d3.scaleLinear().domain(p.yDomain).range([p.bottom, p.top]);
  const g = svg.append("g");
  defs.append("clipPath").attr("id", "clip-" + p.id).append("rect")
    .attr("x", p.left).attr("y", p.top)
    .attr("width", p.right - p.left).attr("height", p.bottom - p.top);
  const plot = g.append("g").attr("clip-path", `url(#clip-${p.id})`);

  p.scatter.forEach(s => {
    plot.append("g").selectAll("circle").data(s.points).join("circle")
      .attr("cx", d => x(d[0])).attr("cy", d => y(d[1])).attr("r", 4)
      .attr("fill", s.color).attr("fill-opacity", s.alpha);
  });
  const line = d3.line().x(d => x(d[0])).y(d => y(d[1]));
  p.lines.forEach(l => {
    plot.append("path").attr("d", line(l.points)).attr("fill", "none")
      .attr("stroke", l.color).attr("stroke-width", l.width)
      .attr("stroke-linejoin", "round").attr("stroke-linecap", "butt");
  });

  const xa = g.append("g").attr("transform", `translate(0,${p.bottom})`)
    .call(d3.axisBottom(x).tickValues(p.xTicks).tickFormat(d3.format("d")).tickSize(5).tickPadding(3));
  const ya = g.append("g").attr("transform", `translate(${p.left},0)`)
    .call(d3.axisLeft(y).tickValues(p.yTicks).tickFormat(d3.format(".1f")).tickSize(5).tickPadding(3));
  [xa, ya].forEach(a => {
    a.select(".domain").remove();
    a.attr("font-family", null).attr("font-size", null);
    a.selectAll("line").attr("stroke", "#000").attr("stroke-width", 1);
    a.selectAll("text").attr("fill", "#000").style("font-size", TICK_FONT);
  });

  g.append("rect").attr("x", p.left).attr("y", p.top)
    .attr("width", p.right - p.left).attr("height", p.bottom - p.top)
    .attr("fill", "none").attr("stroke", "#111").attr("stroke-width", 1);

  g.append("text").attr("x", (p.left + p.right) / 2).attr("y", p.xLabelY)
    .attr("text-anchor", "middle").style("font-size", LABEL_FONT).text(p.xLabel);

  const yl = g.append("text")
    .attr("transform", `translate(${p.yLabelX},${(p.top + p.bottom) / 2}) rotate(-90)`)
    .attr("text-anchor", "middle").style("font-size", LABEL_FONT);
  p.yLabel.forEach(part => {
    const t = yl.append("tspan").text(part.t);
    if (part.it) t.style("font-style", "italic");
    if (part.sub) t.style("font-size", SUB_FONT + "px");
    if (part.dy) t.attr("dy", part.dy);
  });

  if (p.legend) {
    const L = p.legend;
    const lg = g.append("g");
    lg.append("rect").attr("x", L.x).attr("y", L.y).attr("width", L.w).attr("height", L.h)
      .attr("rx", 4).attr("fill", "#fff").attr("fill-opacity", 0.8)
      .attr("stroke", "#cccccc").attr("stroke-opacity", 0.8);
    lg.append("text").attr("x", L.x + L.w / 2).attr("y", L.titleY)
      .attr("text-anchor", "middle").style("font-size", LABEL_FONT).style("font-style", "italic").text("k");
    legendLabels.forEach((lab, i) => {
      const ly = L.rowY[i];
      lg.append("line").attr("x1", L.lineX0).attr("x2", L.lineX1).attr("y1", ly).attr("y2", ly)
        .attr("stroke", K_COLORS[i]).attr("stroke-width", 3.5);
      lg.append("text").attr("x", L.labelX).attr("y", ly + 6.8).attr("text-anchor", "middle")
        .style("font-size", LABEL_FONT).text(lab);
    });
  }

  svg.append("text").attr("x", p.captionX).attr("y", p.captionY)
    .attr("textLength", p.captionW).attr("lengthAdjust", "spacingAndGlyphs")
    .style("font-family", "'Liberation Serif', 'DejaVu Serif', serif").style("font-size", "28px")
    .text(p.caption);
}

const residualLabel = [
  { t: "Residual " }, { t: "R", it: true },
  { t: "n", it: true, sub: true, dy: 5 }, { t: "+1", sub: true }
];
const probLabel = [
  { t: "π\u0303", it: true }, { t: "k", it: true, sub: true, dy: 5 },
  { t: "(", dy: -5 }, { t: "X", it: true },
  { t: "n", it: true, sub: true, dy: 5 }, { t: "+1", sub: true }, { t: ")", dy: -5 }
];

drawPanel({
  id: "a", left: 70, right: 484, top: 10, bottom: 297.7,
  xDomain: [11.86, 81.7], yDomain: [0, 0.6216],
  xTicks: incomeTicksA, yTicks: residualTicks,
  scatter: [{ points: incomeResiduals.concat(incomeResidualsDense), color: GREY, alpha: 0.24 }],
  lines: [{ points: incomeQuantile, color: "#000", width: 4 }],
  xLabel: "Median household income (in thousands)", xLabelY: 342,
  yLabel: residualLabel, yLabelX: 24,
  caption: "(a) Residuals and PCP quantile.", captionX: 73, captionY: 388, captionW: 409
});

drawPanel({
  id: "b", left: 650.7, right: 1064, top: 10.7, bottom: 297.7,
  xDomain: [12.0, 81.3], yDomain: [-0.0415, 1.0403],
  xTicks: incomeTicksB, yTicks: probTicks,
  scatter: [
    { points: incomeK1Scatter.concat(at(incomeK1Ones, 1), at(incomeK1Zeros, 0)), color: K_COLORS[0], alpha: 0.24 },
    { points: incomeK2Scatter.concat(at(incomeK2Ones, 1), at(incomeK2Zeros, 0)), color: K_COLORS[1], alpha: 0.24 },
    { points: incomeK3Scatter.concat(at(incomeK3Zeros, 0)), color: K_COLORS[2], alpha: 0.24 }
  ],
  lines: [
    { points: incomeK1Line, color: K_COLORS[0], width: 3.5 },
    { points: incomeK2Line, color: K_COLORS[1], width: 3.5 },
    { points: incomeK3Line, color: K_COLORS[2], width: 3.5 }
  ],
  xLabel: "Median household income (in thousands)", xLabelY: 342,
  yLabel: probLabel, yLabelX: 604,
  legend: { x: 973, y: 20.7, w: 81, h: 118.3, titleY: 41.5, rowY: [64.3, 92.7, 120.7],
            lineX0: 978, lineX1: 1021, labelX: 1040 },
  caption: "(b) Membership probabilities.", captionX: 641, captionY: 388, captionW: 389
});

drawPanel({
  id: "c", left: 69.3, right: 490.7, top: 446, bottom: 733.3,
  xDomain: [8.83, 104.9], yDomain: [0, 0.6216],
  xTicks: popTicks, yTicks: residualTicks,
  scatter: [{ points: popResiduals.concat(popResidualsDense), color: GREY, alpha: 0.24 }],
  lines: [{ points: popQuantile, color: "#000", width: 4 }],
  xLabel: "Population size (in thousands)", xLabelY: 778,
  yLabel: residualLabel, yLabelX: 24,
  caption: "(c) Residuals and PCP quantile.", captionX: 73, captionY: 820, captionW: 409
});

drawPanel({
  id: "d", left: 650.7, right: 1070, top: 446, bottom: 733.3,
  xDomain: [9.28, 104.95], yDomain: [-0.0376, 1.0425],
  xTicks: popTicks, yTicks: probTicks,
  scatter: [
    { points: popK1Scatter.concat(at(popK1Zeros, 0), at(popSharedZeros, 0)), color: K_COLORS[0], alpha: 0.24 },
    { points: popK2Scatter.concat(at(popK2Ones, 1), at(popK2Zeros, 0), at(popSharedZeros, 0)), color: K_COLORS[1], alpha: 0.24 },
    { points: popK3Scatter.concat(at(popK3Ones, 1), at(popK3Zeros, 0), at(popSharedZeros, 0)), color: K_COLORS[2], alpha: 0.24 }
  ],
  lines: [
    { points: popK1Line, color: K_COLORS[0], width: 3.5 },
    { points: popK2Line, color: K_COLORS[1], width: 3.5 },
    { points: popK3Line, color: K_COLORS[2], width: 3.5 }
  ],
  xLabel: "Population size (in thousands)", xLabelY: 778,
  yLabel: probLabel, yLabelX: 604,
  legend: { x: 979, y: 456.7, w: 81, h: 118.6, titleY: 478.3, rowY: [500, 528.3, 556.7],
            lineX0: 985, lineX1: 1026.7, labelX: 1046.7 },
  caption: "(d) Membership probabilities.", captionX: 641, captionY: 820, captionW: 389
});
</script>
</body>
</html>
